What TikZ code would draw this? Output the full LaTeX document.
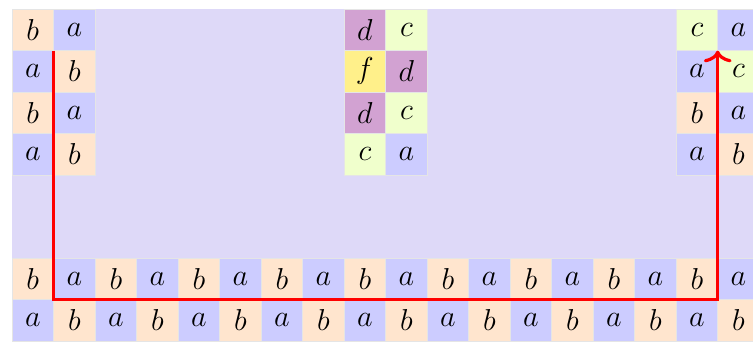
\documentclass[tikz,border=0pt]{standalone}
\usepackage{xcolor}
\usepackage{tikz}
\usetikzlibrary{arrows.meta}

\definecolor{bgcol}{HTML}{DED9F8}
\definecolor{acol}{HTML}{CCCCFF}
\definecolor{bcol}{HTML}{FFE5CE}
\definecolor{ccol}{HTML}{F0FFCC}
\definecolor{dcol}{HTML}{D2A2D2}
\definecolor{fcol}{HTML}{FFF08A}

\begin{document}
\begin{tikzpicture}[
  cell/.style={draw=gray!20, minimum size=1cm, inner sep=0pt, outer sep=0pt, font=\huge},
  ca/.style={cell, fill=acol},
  cb/.style={cell, fill=bcol},
  cc/.style={cell, fill=ccol},
  cd/.style={cell, fill=dcol},
  cf/.style={cell, fill=fcol},
  route/.style={draw=red, line width=2.2pt, -{Computer Modern Rightarrow[width=19pt,length=8pt]}}
]
\useasboundingbox (-0.29,-8) rectangle (17.85,0.22);
\fill[bgcol] (0,0) rectangle (18,-8);
% left block
\node[cb] (l00) at (0.5,-0.5) {$b$};
\node[ca] (l01) at (1.5,-0.5) {$a$};
\node[ca] (l10) at (0.5,-1.5) {$a$};
\node[cb] (l11) at (1.5,-1.5) {$b$};
\node[cb] (l20) at (0.5,-2.5) {$b$};
\node[ca] (l21) at (1.5,-2.5) {$a$};
\node[ca] (l30) at (0.5,-3.5) {$a$};
\node[cb] (l31) at (1.5,-3.5) {$b$};
% middle block
\node[cd] (m00) at (8.5,-0.5) {$d$};
\node[cc] (m01) at (9.5,-0.5) {$c$};
\node[cf] (m10) at (8.5,-1.5) {$f$};
\node[cd] (m11) at (9.5,-1.5) {$d$};
\node[cd] (m20) at (8.5,-2.5) {$d$};
\node[cc] (m21) at (9.5,-2.5) {$c$};
\node[cc] (m30) at (8.5,-3.5) {$c$};
\node[ca] (m31) at (9.5,-3.5) {$a$};
% right block
\node[cc] (r00) at (16.5,-0.5) {$c$};
\node[ca] (r01) at (17.5,-0.5) {$a$};
\node[ca] (r10) at (16.5,-1.5) {$a$};
\node[cc] (r11) at (17.5,-1.5) {$c$};
\node[cb] (r20) at (16.5,-2.5) {$b$};
\node[ca] (r21) at (17.5,-2.5) {$a$};
\node[ca] (r30) at (16.5,-3.5) {$a$};
\node[cb] (r31) at (17.5,-3.5) {$b$};
% upper bottom row
\node[cb] (u0) at (0.5,-6.5) {$b$};   \node[ca] (u1) at (1.5,-6.5) {$a$};
\node[cb] (u2) at (2.5,-6.5) {$b$};   \node[ca] (u3) at (3.5,-6.5) {$a$};
\node[cb] (u4) at (4.5,-6.5) {$b$};   \node[ca] (u5) at (5.5,-6.5) {$a$};
\node[cb] (u6) at (6.5,-6.5) {$b$};   \node[ca] (u7) at (7.5,-6.5) {$a$};
\node[cb] (u8) at (8.5,-6.5) {$b$};   \node[ca] (u9) at (9.5,-6.5) {$a$};
\node[cb] (u10) at (10.5,-6.5) {$b$}; \node[ca] (u11) at (11.5,-6.5) {$a$};
\node[cb] (u12) at (12.5,-6.5) {$b$}; \node[ca] (u13) at (13.5,-6.5) {$a$};
\node[cb] (u14) at (14.5,-6.5) {$b$}; \node[ca] (u15) at (15.5,-6.5) {$a$};
\node[cb] (u16) at (16.5,-6.5) {$b$}; \node[ca] (u17) at (17.5,-6.5) {$a$};
% lower bottom row
\node[ca] (w0) at (0.5,-7.5) {$a$};   \node[cb] (w1) at (1.5,-7.5) {$b$};
\node[ca] (w2) at (2.5,-7.5) {$a$};   \node[cb] (w3) at (3.5,-7.5) {$b$};
\node[ca] (w4) at (4.5,-7.5) {$a$};   \node[cb] (w5) at (5.5,-7.5) {$b$};
\node[ca] (w6) at (6.5,-7.5) {$a$};   \node[cb] (w7) at (7.5,-7.5) {$b$};
\node[ca] (w8) at (8.5,-7.5) {$a$};   \node[cb] (w9) at (9.5,-7.5) {$b$};
\node[ca] (w10) at (10.5,-7.5) {$a$}; \node[cb] (w11) at (11.5,-7.5) {$b$};
\node[ca] (w12) at (12.5,-7.5) {$a$}; \node[cb] (w13) at (13.5,-7.5) {$b$};
\node[ca] (w14) at (14.5,-7.5) {$a$}; \node[cb] (w15) at (15.5,-7.5) {$b$};
\node[ca] (w16) at (16.5,-7.5) {$a$}; \node[cb] (w17) at (17.5,-7.5) {$b$};
\path[route] (l11.north west) |- (w17.north west) -- (r11.north west);
\end{tikzpicture}
\end{document}
